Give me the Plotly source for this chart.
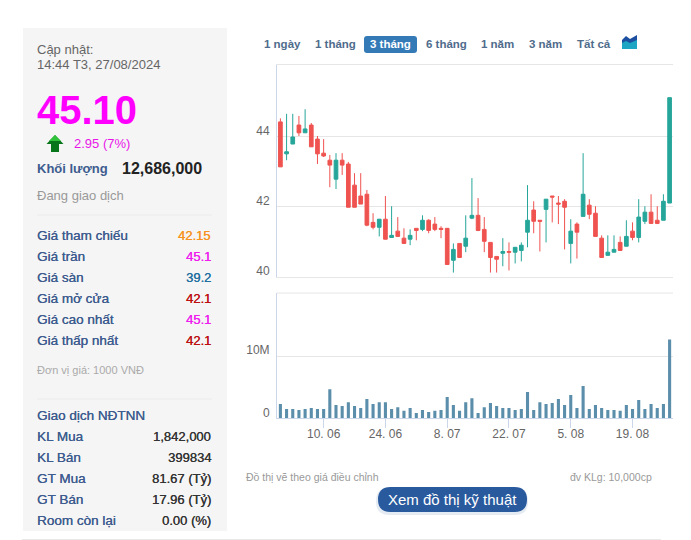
import plotly.graph_objects as go
from plotly.subplots import make_subplots

# candles, one per trading day
opens = [44.41, 43.50, 43.78, 44.32, 44.10, 44.32, 43.92, 43.52, 43.32, 42.78, 43.32, 43.21, 42.61, 42.30, 42.35, 41.55,
         41.41, 41.64, 41.12, 41.30, 41.10, 41.07, 41.38, 41.35, 41.61, 41.50, 41.38, 41.38, 40.47, 40.95, 40.87, 41.67,
         41.75, 41.35, 40.98, 40.58, 40.67, 40.72, 40.70, 40.75, 41.27, 41.90, 41.61, 41.92, 42.30, 42.10, 42.15, 40.95,
         41.50, 41.72, 42.04, 41.81, 41.10, 40.61, 40.70, 40.98, 40.87, 41.30, 41.12, 41.58, 41.84, 41.61, 41.61, 42.10]
highs = [44.51, 44.64, 44.64, 44.58, 44.77, 44.38, 44.01, 43.92, 43.47, 43.52, 43.52, 43.27, 42.95, 42.95, 42.47, 41.81,
         41.64, 42.30, 42.01, 41.70, 41.38, 41.35, 41.38, 41.75, 41.64, 41.70, 41.44, 41.38, 40.95, 40.95, 41.75, 42.81,
         42.24, 41.70, 40.98, 40.58, 41.10, 40.98, 40.84, 40.98, 42.61, 42.15, 41.61, 42.21, 42.30, 42.30, 42.21, 41.64,
         41.55, 43.52, 42.21, 42.01, 41.18, 41.18, 41.18, 41.15, 41.61, 41.55, 42.21, 42.01, 42.35, 42.01, 42.35, 45.10]
lows = [43.13, 43.32, 43.78, 44.01, 44.10, 43.70, 43.21, 43.41, 42.55, 42.50, 42.90, 41.98, 41.98, 42.07, 41.44, 41.35,
        41.15, 41.07, 41.12, 41.15, 40.95, 40.90, 41.04, 41.30, 41.24, 41.30, 41.10, 40.35, 40.12, 40.55, 40.70, 41.64,
        41.30, 40.70, 40.12, 40.12, 40.30, 40.18, 40.38, 40.44, 40.84, 41.24, 40.72, 40.98, 41.55, 41.50, 40.78, 40.38,
        40.52, 41.72, 41.64, 41.15, 40.55, 40.61, 40.70, 40.75, 40.87, 41.04, 40.98, 41.50, 41.52, 41.50, 41.61, 42.10]
closes = [43.13, 43.56, 43.98, 44.10, 44.21, 43.70, 43.50, 43.44, 43.18, 43.32, 43.18, 41.98, 41.98, 42.07, 41.47, 41.41,
          41.64, 41.07, 41.18, 41.15, 40.95, 41.18, 41.32, 41.61, 41.32, 41.35, 41.35, 40.35, 40.78, 40.55, 41.10, 41.75,
          41.32, 41.01, 40.55, 40.50, 40.72, 40.70, 40.84, 40.90, 41.61, 41.58, 41.58, 42.21, 42.27, 42.07, 41.98, 41.30,
          41.27, 42.35, 41.78, 41.15, 40.55, 40.70, 40.78, 40.75, 41.15, 41.12, 41.70, 41.84, 41.52, 41.52, 42.15, 45.10]
# volume in millions of shares
volumes = [2.3, 1.5, 1.5, 1.35, 1.5, 1.65, 1.5, 1.5, 4.7, 2.15, 2.0, 2.6, 2.0, 1.65, 3.1, 2.3,
           2.6, 2.6, 1.5, 1.8, 1.2, 1.65, 0.85, 1.35, 1.0, 1.2, 1.35, 3.45, 2.15, 1.2, 2.6, 3.25,
           0.85, 1.8, 2.45, 2.0, 1.65, 1.65, 1.35, 1.5, 4.25, 1.35, 2.6, 2.3, 2.45, 3.1, 2.15, 3.75,
           1.65, 5.2, 1.5, 2.15, 1.65, 1.35, 1.35, 1.2, 2.15, 1.5, 2.95, 1.5, 2.3, 1.65, 2.3, 12.686]
days = list(range(len(closes)))
date_ticks = [7, 17, 27, 37, 47, 57]
date_labels = ['10. 06', '24. 06', '8. 07', '22. 07', '5. 08', '19. 08']

range_buttons = ['1 ngày', '1 tháng', '3 tháng', '6 tháng', '1 năm', '3 năm', 'Tất cả']
price_rows = ['Giá tham chiếu', 'Giá trần', 'Giá sàn', 'Giá mở cửa', 'Giá cao nhất', 'Giá thấp nhất']
price_values = ['42.15', '45.1', '39.2', '42.1', '45.1', '42.1']
foreign_rows = ['KL Mua', 'KL Bán', 'GT Mua', 'GT Bán', 'Room còn lại']
foreign_values = ['1,842,000', '399834', '81.67 (Tỷ)', '17.96 (Tỷ)', '0.00 (%)']

W, H = 691, 540
FONT = 'Liberation Sans'
LABEL = '#3d5c8f'
GRID = '#e6e6e6'
AXIS = '#ccd6eb'
TICK = '#666666'
RED = '#ef5350'
TEAL = '#26a69a'


def px(x):
    return x / W


def py(y):
    return 1 - y / H


fig = make_subplots(rows=2, cols=1, shared_xaxes=False)
fig.add_trace(go.Candlestick(
    x=days, open=opens, high=highs, low=lows, close=closes,
    increasing=dict(line=dict(color=TEAL, width=1), fillcolor=TEAL),
    decreasing=dict(line=dict(color=RED, width=1), fillcolor=RED),
    whiskerwidth=0,
), row=1, col=1)
fig.add_trace(go.Bar(x=days, y=volumes, marker=dict(color='#5b8eaa', line_width=0)), row=2, col=1)


def text(x, y, s, size=13, color='#333333', anchor='left', bold=False, heavy=False):
    font = dict(family=FONT, size=size, color=color)
    if heavy:
        # the page draws these a bit thicker than regular weight
        font['shadow'] = f'0.25px 0 0 {color}'
    fig.add_annotation(
        xref='paper', yref='paper', x=px(x), y=py(y), text=f'<b>{s}</b>' if bold else s,
        showarrow=False, xanchor=anchor, yanchor='middle', borderpad=0, borderwidth=0,
        font=font,
    )


def rect(x0, y0, x1, y1, color, r=0, opacity=1):
    # rounded corners with quadratic curves, paper coordinates
    path = (f'M{px(x0 + r)},{py(y0)} L{px(x1 - r)},{py(y0)} Q{px(x1)},{py(y0)} {px(x1)},{py(y0 + r)} '
            f'L{px(x1)},{py(y1 - r)} Q{px(x1)},{py(y1)} {px(x1 - r)},{py(y1)} '
            f'L{px(x0 + r)},{py(y1)} Q{px(x0)},{py(y1)} {px(x0)},{py(y1 - r)} '
            f'L{px(x0)},{py(y0 + r)} Q{px(x0)},{py(y0)} {px(x0 + r)},{py(y0)} Z')
    fig.add_shape(type='path', xref='paper', yref='paper', path=path, fillcolor=color,
                  line_width=0, opacity=opacity, layer='below')


def poly(points, color):
    path = 'M' + ' L'.join(f'{px(a)},{py(b)}' for a, b in points) + ' Z'
    fig.add_shape(type='path', xref='paper', yref='paper', path=path, fillcolor=color, line_width=0)


def hline(x0, x1, y, color):
    fig.add_shape(type='line', xref='paper', yref='paper', x0=px(x0), x1=px(x1), y0=py(y), y1=py(y),
                  line=dict(color=color, width=1), layer='below')


# left panel
rect(23, 28, 227, 531, '#f5f5f5')
hline(37, 212, 215, '#ebebeb')
hline(37, 212, 399, '#ebebeb')
hline(22, 661, 539.5, '#e8e8e8')
text(37, 50, 'Cập nhật:', 13, '#666666')
text(37, 65, '14:44 T3, 27/08/2024', 13, '#666666')
text(37, 110, '45.10', 40, '#ff00ff', bold=True)
poly([(55, 135), (63.5, 144), (59, 144), (59, 152), (51, 152), (51, 144), (46.5, 144)], '#07761a')
poly([(55, 135), (61, 141), (49, 141)], '#2fc23a')
text(74, 143, '2.95 (7%)', 13, '#e815e8')
text(37, 169, 'Khối lượng', 13, LABEL, bold=True)
text(202, 168, '12,686,000', 16, '#222222', 'right', bold=True)
text(37, 196, 'Đang giao dịch', 13, '#999999')

price_colors = ['#f7941d', '#ee1fee', '#1f6f9f', '#bb0f0f', '#ee1fee', '#bb0f0f']
for i, (name, val) in enumerate(zip(price_rows, price_values)):
    text(37, 235.5 + i * 20.9, name, 13.5, LABEL, heavy=True)
    text(211, 235.5 + i * 20.9, val, 13, price_colors[i], 'right', heavy=True)
text(37, 370, 'Đơn vị giá: 1000 VNĐ', 11, '#aaaaaa')

text(37, 415.5, 'Giao dịch NĐTNN', 13.5, LABEL, heavy=True)
for i, (name, val) in enumerate(zip(foreign_rows, foreign_values)):
    text(37, 436.5 + i * 20.9, name, 13.5, LABEL, heavy=True)
    text(211, 436.5 + i * 20.9, val, 13, '#333333', 'right', heavy=True)

# range selector row
button_centers = [282, 335, 390.5, 446, 497.7, 545.7, 593.7]
rect(364, 36, 417, 53, '#337ab7', r=3)
for name, cx in zip(range_buttons, button_centers):
    if name == '3 tháng':
        text(cx, 44.5, name, 11.5, '#ffffff', 'center', bold=True)
    else:
        text(cx, 44.5, name, 11.5, '#4f6c8c', 'center', bold=True)
poly([(622, 49), (622, 40), (626, 36), (630, 39), (637, 35), (637, 49)], '#1d4fa0')
poly([(622, 49), (622, 43), (626, 41), (630, 43), (637, 40), (637, 49)], '#1fa5c4')

# notes and button under the chart
text(246, 477, 'Đồ thị vẽ theo giá điều chỉnh', 10.5, '#999999')
text(652, 477, 'đv KLg: 10,000cp', 10.5, '#999999', 'right')
rect(376, 488, 528, 515, '#2a5a9c', r=13, opacity=0.12)
rect(378, 487, 527, 512, '#295a9e', r=12.5)
text(452.5, 499.5, 'Xem đồ thị kỹ thuật', 15, '#ffffff', 'center')

fig.update_layout(
    width=W, height=H,
    margin=dict(l=0, r=0, t=0, b=0),
    paper_bgcolor='white', plot_bgcolor='white',
    showlegend=False,
    boxgap=0.15,
    bargap=0.5,
    font=dict(family=FONT, size=12, color=TICK),
    xaxis=dict(domain=[px(277), px(673)], range=[-0.55, 63.55], rangeslider=dict(visible=False),
               showticklabels=False, ticks='', showgrid=False, showline=True, linecolor=GRID,
               linewidth=1, mirror=True, zeroline=False),
    yaxis=dict(domain=[py(276.8), py(65)], range=[40, 46.03], tickvals=[40, 42, 44],
               ticktext=['40', '42', '44'], showgrid=True, gridcolor=GRID, gridwidth=1, zeroline=False,
               showline=True, linecolor=AXIS, ticks='', ticklabelshift=-6, ticklabelstandoff=4),
    xaxis2=dict(domain=[px(277), px(673)], range=[-0.55, 63.55], tickvals=date_ticks, ticktext=date_labels,
                ticks='outside', ticklen=9, tickcolor=AXIS, tickwidth=1, showgrid=False, showline=True,
                linecolor=AXIS, linewidth=1, zeroline=False, ticklabelstandoff=-5),
    yaxis2=dict(domain=[py(418.3), py(293)], range=[0, 20.2], tickvals=[0, 10], ticktext=['0', '10M'],
                showgrid=True, gridcolor=GRID, gridwidth=1, zeroline=False, showline=True, linecolor=AXIS,
                ticks='', ticklabelshift=-6, ticklabelstandoff=4),
)
hline(277, 673, 293, GRID)

fig.write_html('out.html', config={'displayModeBar': False}, post_script="document.body.style.margin='0';")
